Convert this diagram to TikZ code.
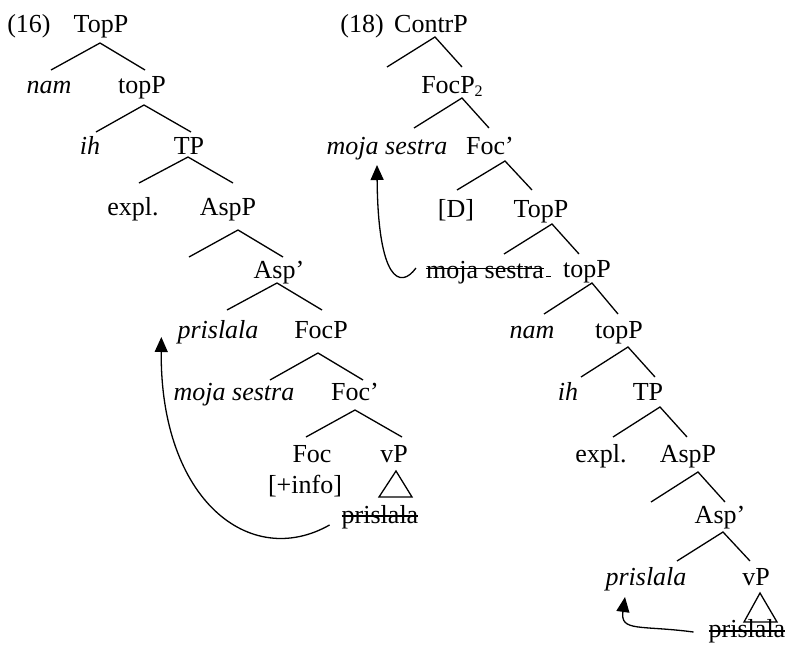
\documentclass[tikz,border=0pt]{standalone}
\usepackage{fontspec}
\setmainfont{Liberation Serif}
\usetikzlibrary{arrows.meta,calc}
\newcommand\bigfont{\fontsize{26}{30}\selectfont}
\tikzset{
  tn/.style={inner sep=0pt, anchor=base, font=\bigfont},
  it/.style={inner sep=0pt, anchor=base, font=\bigfont\itshape},
  branch/.style={line width=1.3pt},
  strike/.style={line width=1.1pt},
  mv/.style={line width=1.3pt, -{Triangle[length=15pt,width=13pt]}},
}
\newcommand\brn[4]{%
  \coordinate (#1-a) at (#2);
  \coordinate (#1-l) at (#3);
  \coordinate (#1-r) at (#4);
  \draw[branch] (#1-l) -- (#1-a) -- (#1-r);}
\begin{document}
\begin{tikzpicture}[x=1pt,y=-1pt]
\useasboundingbox (0,0) rectangle (793,651);
% ---------------- left tree (16)
\node[tn] (l16)   at (29,32)  {(16)};
\node[tn] (lTopP) at (101,32) {TopP};
\node[it] (lnam)  at (49,93)  {nam};
\node[tn] (ltopP) at (142,93) {topP};
\node[it] (lih)   at (90,154) {ih};
\node[tn] (lTP)   at (189,154) {TP};
\node[tn] (lexpl) at (133,215) {expl.};
\node[tn] (lAspP) at (228,215) {AspP};
\node[tn] (lAsp)  at (279,278) {Asp’};
\node[it] (lpris) at (218,338) {prislala};
\node[tn] (lFocP) at (321,338) {FocP};
\node[it] (lmoja) at (234,400) {moja sestra};
\node[tn] (lFocb) at (355,400) {Foc’};
\node[tn] (lFoc)  at (312,462) {Foc};
\node[tn] (linfo) at (305,493) {[+info]};
\node[tn] (lvP)   at (394,462) {vP};
\node[tn] (lstr)  at (380,523) {prislala};
\draw[strike] ([yshift=7pt]lstr.base west) -- ([yshift=7pt]lstr.base east);

\brn{lb1}{100,43}{51,70}{145,70}
\brn{lb2}{144,105}{96,132}{191,132}
\brn{lb3}{188,157}{139,183}{233,183}
\brn{lb4}{238,230}{189,257}{283,257}
\brn{lb5}{277,283}{227,310}{322,310}
\brn{lb6}{318,353}{270,380}{363,380}
\brn{lb7}{355,410}{306,437}{402,437}
\coordinate (ltA) at (396,471);
\coordinate (ltB) at (379,497);
\coordinate (ltC) at (412,497);
\draw[branch, line join=miter] (ltA) -- (ltB) -- (ltC) -- cycle;

\coordinate (m1s) at ($(lstr.base west)+(-12,2)$);
\coordinate (m1e) at ($(lpris.base west)+(-16,-1)$);
\draw[mv] (m1s) .. controls (250,570) and (160,500) .. (m1e);

% ---------------- right tree (18)
\node[tn] (r18)    at (362,32)  {(18)};
\node[tn] (rContr) at (431,32)  {ContrP};
\node[tn] (rFocP)  at (452,93)  {FocP\raisebox{-3pt}{\fontsize{16}{16}\selectfont 2}};
\node[it] (rmoja)  at (387,154) {moja sestra};
\node[tn] (rFocb)  at (490,154) {Foc’};
\node[tn] (rD)     at (456,217) {[D]};
\node[tn] (rTopP)  at (541,217) {TopP};
\node[tn] (rstr)   at (485,278) {moja sestra};
\draw[strike] ([yshift=9.5pt]rstr.base west) -- ([yshift=9.5pt]rstr.base east);
\coordinate (rdash1) at ($(rstr.base east)+(2,-2)$);
\coordinate (rdash2) at ($(rstr.base east)+(7,-2)$);
\draw[line width=0.8pt] (rdash1) -- (rdash2);
\node[tn] (rtopP)  at (587,277) {topP};
\node[it] (rnam)   at (532,338) {nam};
\node[tn] (rtopP2) at (619,338) {topP};
\node[it] (rih)    at (568,400) {ih};
\node[tn] (rTP)    at (648,400) {TP};
\node[tn] (rexpl)  at (601,462) {expl.};
\node[tn] (rAspP)  at (688,462) {AspP};
\node[tn] (rAsp)   at (720,523) {Asp’};
\node[it] (rpris)  at (646,585) {prislala};
\node[tn] (rvP)    at (756,585) {vP};
\node[tn] (rstr2)  at (747,637) {prislala};
\draw[strike] ([yshift=6pt]rstr2.base west) -- ([yshift=6pt]rstr2.base east);

\brn{rb1}{435,37}{387,67}{462,67}
\brn{rb2}{462,98}{414,128}{489,128}
\brn{rb3}{505,161}{457,190}{532,190}
\brn{rb4}{552,224}{504,254}{579,254}
\brn{rb5}{592,283}{544,314}{618,314}
\brn{rb6}{628,347}{581,377}{655,377}
\brn{rb7}{660,407}{613,437}{687,437}
\brn{rb8}{698,472}{651,502}{725,502}
\brn{rb9}{723,532}{677,561}{750,561}
\coordinate (rtA) at (760,593);
\coordinate (rtB) at (744,622);
\coordinate (rtC) at (777,622);
\draw[branch, line join=miter] (rtA) -- (rtB) -- (rtC) -- cycle;

\coordinate (m2s) at ($(rstr.base west)+(-10,-10)$);
\coordinate (m2e) at ($(rmoja.base)+(-10,11)$);
\draw[mv] (m2s) .. controls (400,290) and (378,280) .. (m2e);

\coordinate (m3s) at ($(rstr2.base west)+(-15,-5)$);
\coordinate (m3e) at ($(rpris.base)+(-21,12)$);
\draw[mv] (m3s) .. controls (640,625) and (620,632) .. (m3e);
\end{tikzpicture}
\end{document}
